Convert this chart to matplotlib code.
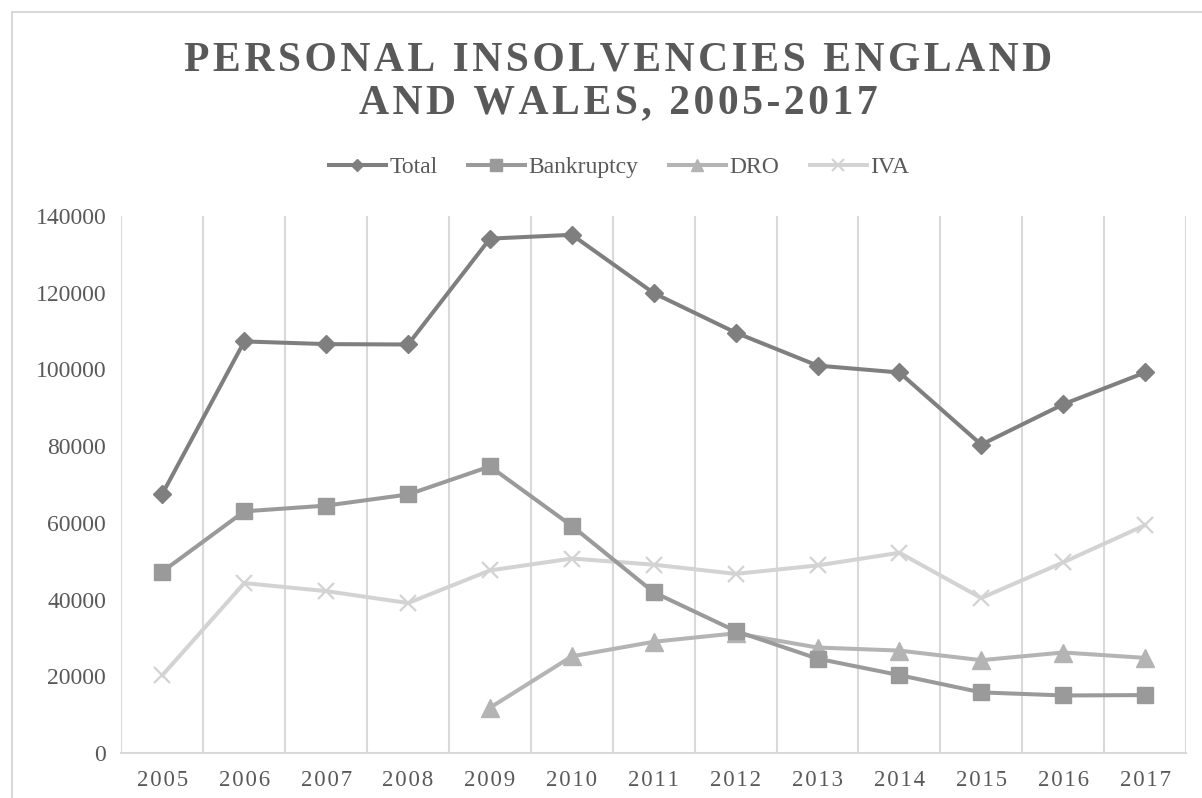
import numpy as np
import matplotlib.pyplot as plt
from matplotlib.lines import Line2D
from matplotlib.patches import Rectangle

years = ['2005', '2006', '2007', '2008', '2009', '2010', '2011',
         '2012', '2013', '2014', '2015', '2016', '2017']
total = [67600, 107300, 106600, 106500, 134100, 135100, 119900,
         109600, 101000, 99200, 80400, 90900, 99200]
bankruptcy = [47300, 63000, 64500, 67400, 74700, 59200, 41900,
              31800, 24600, 20300, 15800, 15000, 15100]
dro_years = ['2009', '2010', '2011', '2012', '2013', '2014', '2015', '2016', '2017']
dro = [11800, 25200, 29000, 31200, 27500, 26700, 24200, 26200, 24800]
iva = [20300, 44300, 42200, 39100, 47600, 50700, 49100,
       46700, 48900, 52200, 40400, 49700, 59400]
yticks = [0, 20000, 40000, 60000, 80000, 100000, 120000, 140000]

txt = '#595959'
grid = '#d9d9d9'
c_total = '#7f7f7f'
c_bank = '#9a9a9a'
c_dro = '#b4b4b4'
c_iva = '#d3d3d3'

plt.rcParams['font.family'] = ['Liberation Serif', 'DejaVu Serif']

def track(s):
    # fake letter spacing with hair spaces
    return '\u200a'.join(list(s))

fig = plt.figure(figsize=(12.02, 7.98), dpi=100)
fig.patches.append(Rectangle((12/1202, -0.1), 1.2, (798-12)/798 + 0.1,
                             transform=fig.transFigure, fill=False,
                             edgecolor=grid, lw=1.5))
ax = fig.add_axes([121.5/1202, 45/798, (1186-121.5)/1202, (753-216)/798])

x = np.arange(len(years))
xd = np.array([years.index(y) for y in dro_years])

ax.plot(x, total, color=c_total, lw=2.9, marker='D', ms=9, zorder=5)
ax.plot(x, bankruptcy, color=c_bank, lw=2.9, marker='s', ms=12, zorder=4)
ax.plot(xd, dro, color=c_dro, lw=2.9, marker='^', ms=13, zorder=3)
ax.plot(x, iva, color=c_iva, lw=2.9, marker='x', ms=12, mew=1.6, zorder=2)

ax.set_xlim(-0.5, len(years) - 0.5)
ax.set_ylim(0, 140000)
ax.set_xticks(x)
ax.set_xticklabels([track(y) for y in years])
ax.set_xticks(np.arange(-0.5, len(years), 1), minor=True)
ax.set_yticks(yticks)
ax.set_yticklabels([str(v) for v in yticks])
ax.grid(True, which='minor', axis='x', color=grid, lw=1.5)
ax.tick_params(axis='both', which='both', length=0, colors=txt, labelsize=16.5)
ax.tick_params(axis='y', pad=11, labelsize=17)
ax.tick_params(axis='x', pad=12)
for s in ['top', 'left', 'right']:
    ax.spines[s].set_visible(False)
ax.spines['bottom'].set_color(grid)
ax.spines['bottom'].set_linewidth(1.5)

fig.text(0.514, 1 - 82/798, track('PERSONAL INSOLVENCIES ENGLAND') + '\n' + track('AND WALES, 2005-2017'),
         ha='center', va='center', fontsize=30, fontweight='bold', color=txt,
         linespacing=1.16)

handles = [
    Line2D([], [], color=c_total, lw=2.9, marker='D', ms=6),
    Line2D([], [], color=c_bank, lw=2.9, marker='s', ms=8),
    Line2D([], [], color=c_dro, lw=2.9, marker='^', ms=8),
    Line2D([], [], color=c_iva, lw=2.9, marker='x', ms=8, mew=1.5),
]
leg = fig.legend(handles, ['Total', 'Bankruptcy', 'DRO', 'IVA'], loc='center',
                 bbox_to_anchor=(0.515, 1 - 167/798), ncol=4, frameon=False,
                 fontsize=17, handlelength=2.4, handletextpad=0.15,
                 columnspacing=1.3)
for t in leg.get_texts():
    t.set_color(txt)

fig.savefig('out.png', dpi=100)
